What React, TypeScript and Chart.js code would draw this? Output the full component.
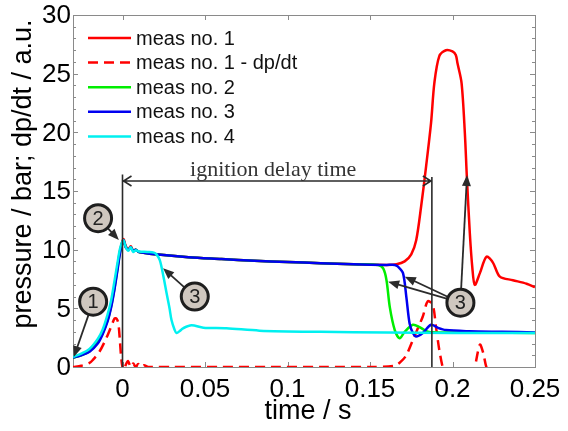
import React, { useEffect, useRef } from "react";
import { Chart, registerables } from "chart.js";

Chart.register(...registerables);

// ---------- data ----------
const meas1Time = [-0.03, -0.025, -0.02, -0.015, -0.012, -0.009, -0.007, -0.005, -0.003, -0.0015, 0.0005, 0.002, 0.0035, 0.005, 0.0065, 0.008, 0.01, 0.02, 0.04, 0.06, 0.08, 0.1, 0.12, 0.14, 0.16, 0.166, 0.171, 0.175, 0.178, 0.181, 0.184, 0.187, 0.189, 0.192, 0.196, 0.2, 0.202, 0.203, 0.2055, 0.2075, 0.2087, 0.2105, 0.212, 0.2135, 0.2166, 0.2206, 0.2245, 0.2287, 0.2366, 0.2449, 0.25];
const meas1Pressure = [0.8, 1.05, 1.4, 2.2, 3.0, 4.2, 5.3, 6.8, 8.6, 9.9, 10.9, 10.3, 10.0, 10.3, 9.9, 10.0, 9.8, 9.6, 9.35, 9.2, 9.05, 8.95, 8.85, 8.75, 8.7, 8.75, 9.0, 9.6, 10.8, 13.7, 17.1, 20.8, 24.2, 26.5, 27.0, 26.9, 26.6, 25.9, 24.2, 19.9, 16.2, 11.4, 8.5, 7.0, 8.0, 9.4, 8.9, 7.7, 7.4, 7.1, 6.8];

const meas1DpdtTime = [-0.03, -0.025, -0.02, -0.018, -0.014, -0.01, -0.007, -0.0047, -0.0035, -0.0025, -0.0016, -0.0008, 0.0, 0.001, 0.002, 0.0034, 0.005, 0.0065, 0.008, 0.0095, 0.011, 0.013, 0.0155, 0.018, 0.03, 0.06, 0.09, 0.12, 0.15, 0.165, 0.169, 0.172, 0.176, 0.179, 0.182, 0.185, 0.188, 0.19, 0.192, 0.194, 0.196, 0.2, 0.205, 0.21, 0.2135, 0.2166, 0.2186, 0.2205, 0.225, 0.25];
const meas1Dpdt = [0.0, 0.1, 0.35, 0.6, 1.3, 2.4, 3.4, 4.15, 4.1, 3.7, 2.3, 0.8, 0.0, -0.3, 0.2, 0.5, 0.0, 0.3, 0.0, 0.25, 0.0, 0.15, 0.0, 0.0, 0.0, 0.0, 0.0, 0.0, 0.0, 0.1, 0.5, 1.0, 2.3, 3.3, 4.3, 5.6, 5.3, 3.4, 1.45, 0.0, -1, -2, -2, -1.5, 0.0, 1.9, 1.2, 0.0, -1.5, -2];

const meas2Time = [-0.03, -0.025, -0.02, -0.015, -0.012, -0.009, -0.007, -0.005, -0.003, -0.0015, 0.0005, 0.002, 0.0035, 0.005, 0.0065, 0.008, 0.01, 0.02, 0.04, 0.06, 0.08, 0.1, 0.12, 0.14, 0.155, 0.158, 0.16, 0.162, 0.165, 0.168, 0.171, 0.176, 0.18, 0.185, 0.19, 0.2, 0.22, 0.25];
const meas2Pressure = [0.8, 1.0, 1.35, 2.1, 2.9, 4.0, 5.1, 6.6, 8.4, 9.8, 10.8, 10.2, 10.0, 10.2, 9.9, 10.0, 9.8, 9.6, 9.35, 9.2, 9.05, 8.95, 8.85, 8.75, 8.7, 8.4, 7.4, 5.1, 3.15, 2.45, 3.0, 3.6, 3.4, 3.0, 2.95, 2.95, 2.95, 2.9];

const meas3Time = [-0.03, -0.025, -0.02, -0.015, -0.012, -0.009, -0.007, -0.005, -0.003, -0.0015, 0.0005, 0.002, 0.0035, 0.005, 0.0065, 0.008, 0.01, 0.02, 0.04, 0.06, 0.08, 0.1, 0.12, 0.14, 0.16, 0.165, 0.167, 0.17, 0.172, 0.174, 0.176, 0.178, 0.182, 0.187, 0.191, 0.196, 0.21, 0.23, 0.25];
const meas3Pressure = [0.8, 1.0, 1.3, 2.0, 2.8, 3.9, 5.0, 6.5, 8.3, 9.7, 10.8, 10.2, 10.0, 10.2, 9.9, 10.0, 9.8, 9.6, 9.35, 9.2, 9.05, 8.95, 8.85, 8.75, 8.7, 8.7, 8.55, 8.0, 6.0, 3.7, 2.9, 2.6, 2.9, 3.6, 3.35, 3.15, 3.05, 3.0, 2.95];

const meas4Time = [-0.03, -0.025, -0.02, -0.015, -0.012, -0.009, -0.007, -0.005, -0.003, -0.0015, 0.0005, 0.002, 0.0035, 0.005, 0.0065, 0.008, 0.01, 0.015, 0.019, 0.0206, 0.0226, 0.0247, 0.0267, 0.0285, 0.0297, 0.0315, 0.0327, 0.035, 0.0367, 0.0418, 0.049, 0.063, 0.083, 0.12, 0.16, 0.2, 0.25];
const meas4Pressure = [0.85, 1.15, 1.55, 2.4, 3.2, 4.5, 5.6, 7.2, 8.9, 10.1, 10.8, 10.2, 9.9, 10.2, 9.8, 9.95, 9.85, 9.8, 9.75, 9.6, 9.1, 7.8, 6.3, 5.0, 4.0, 3.2, 2.9, 3.1, 3.3, 3.55, 3.35, 3.3, 3.1, 3.0, 2.95, 2.9, 2.9];

const seriesLabels = ["meas no. 1", "meas no. 1 - dp/dt", "meas no. 2", "meas no. 3", "meas no. 4"];

const xTickValues = [0, 0.05, 0.1, 0.15, 0.2, 0.25];
const xTickLabels = ["0", "0.05", "0.1", "0.15", "0.2", "0.25"];
const yTickValues = [0, 5, 10, 15, 20, 25, 30];
const yTickLabels = ["0", "5", "10", "15", "20", "25", "30"];
const yMinorStep = 1;

const xAxisTitle = "time / s";
const yAxisTitle = "pressure / bar; dp/dt / a.u.";
const ignitionLabel = "ignition delay time";
const ignitionStart = 0;
const ignitionEnd = 0.1875;
const ignitionArrowLevel = 15.85;
const ignitionStartTop = 16.4;
const ignitionEndTop = 16.2;

// callouts: label, circle centre (data coords), arrow targets (data coords)
const callouts = [
  { label: "1", at: [-0.0178, 5.57], targets: [[-0.0295, 0.85]] },
  { label: "2", at: [-0.0148, 12.68], targets: [[-0.0022, 10.83]] },
  { label: "3", at: [0.0438, 6.0], targets: [[0.0246, 8.41]] },
  { label: "3", at: [0.2048, 5.48], targets: [[0.161, 7.27], [0.1711, 7.7], [0.2088, 16.37]] },
];

// ---------- styles ----------
const COLORS = ["#ff0000", "#ff0000", "#00ee00", "#0000f0", "#00f0f0"];
const DASH = [10, 6];
const SANS = '"Liberation Sans", Arial, sans-serif';
const SERIF = '"Liberation Serif", "Times New Roman", serif';
const INK = "#2b2b2b";

function pts(t: number[], v: number[]) {
  return t.map((x, i) => ({ x, y: v[i] }));
}

function arrowHead(ctx: CanvasRenderingContext2D, fx: number, fy: number, tx: number, ty: number, len: number, half: number) {
  const ang = Math.atan2(ty - fy, tx - fx);
  const c = Math.cos(ang), s = Math.sin(ang);
  const bx = tx - c * len, by = ty - s * len;
  ctx.beginPath();
  ctx.moveTo(tx, ty);
  ctx.lineTo(bx - s * half, by + c * half);
  ctx.lineTo(bx + s * half, by - c * half);
  ctx.closePath();
  ctx.fill();
}

const framePlugin = {
  id: "frame",
  beforeDatasetsDraw(chart: any) {
    const { ctx, chartArea: a, scales } = chart;
    const x = scales.x, y = scales.y;
    ctx.save();
    ctx.strokeStyle = "#8a8a8a";
    ctx.lineWidth = 1;
    ctx.strokeRect(Math.round(a.left) + 0.5, Math.round(a.top) + 0.5, Math.round(a.right - a.left), Math.round(a.bottom - a.top));
    ctx.beginPath();
    for (let v = 0; v <= 30; v += yMinorStep) {
      const py = Math.round(y.getPixelForValue(v)) + 0.5;
      const len = v % 5 === 0 ? 5 : 3;
      ctx.moveTo(a.left, py); ctx.lineTo(a.left + len, py);
      ctx.moveTo(a.right, py); ctx.lineTo(a.right - len, py);
    }
    for (const v of xTickValues) {
      const px = Math.round(x.getPixelForValue(v)) + 0.5;
      ctx.moveTo(px, a.bottom); ctx.lineTo(px, a.bottom - 5);
      ctx.moveTo(px, a.top); ctx.lineTo(px, a.top + 5);
    }
    ctx.stroke();

    // tick labels
    ctx.fillStyle = "#000";
    ctx.font = `26px ${SANS}`;
    ctx.textAlign = "right";
    ctx.textBaseline = "middle";
    yTickValues.forEach((v, i) => ctx.fillText(yTickLabels[i], a.left - 2, y.getPixelForValue(v) + 1));
    ctx.textAlign = "center";
    xTickValues.forEach((v, i) => ctx.fillText(xTickLabels[i], x.getPixelForValue(v), a.bottom + 23));

    // axis titles
    ctx.font = `27px ${SANS}`;
    ctx.fillText(xAxisTitle, (a.left + a.right) / 2 + 4, a.bottom + 45);
    ctx.save();
    ctx.translate(24, 174);
    ctx.rotate(-Math.PI / 2);
    ctx.fillText(yAxisTitle, 0, 0);
    ctx.restore();
    ctx.restore();
  },
  afterDatasetsDraw(chart: any) {
    const { ctx, chartArea: a, scales } = chart;
    const x = scales.x, y = scales.y;
    ctx.save();

    // legend
    ctx.font = `20px ${SANS}`;
    ctx.textAlign = "left";
    ctx.textBaseline = "middle";
    seriesLabels.forEach((lab, i) => {
      const ly = 38 + i * 24.6;
      ctx.strokeStyle = COLORS[i];
      ctx.lineWidth = 2.5;
      ctx.setLineDash(i === 1 ? DASH : []);
      ctx.beginPath();
      ctx.moveTo(88, ly); ctx.lineTo(131, ly);
      ctx.stroke();
      ctx.setLineDash([]);
      ctx.fillStyle = "#111";
      ctx.fillText(lab, 136, ly + 1);
    });

    // ignition delay annotation
    const x0 = x.getPixelForValue(ignitionStart);
    const x1 = x.getPixelForValue(ignitionEnd);
    const ya = y.getPixelForValue(ignitionArrowLevel);
    ctx.strokeStyle = INK;
    ctx.fillStyle = INK;
    ctx.lineWidth = 1.6;
    ctx.beginPath();
    ctx.moveTo(x0, y.getPixelForValue(ignitionStartTop)); ctx.lineTo(x0, a.bottom);
    ctx.moveTo(x1, y.getPixelForValue(ignitionEndTop)); ctx.lineTo(x1, a.bottom);
    ctx.moveTo(x0, ya); ctx.lineTo(x1, ya);
    ctx.moveTo(x0 + 9, ya - 5); ctx.lineTo(x0 + 1, ya); ctx.lineTo(x0 + 9, ya + 5);
    ctx.moveTo(x1 - 9, ya - 5); ctx.lineTo(x1 - 1, ya); ctx.lineTo(x1 - 9, ya + 5);
    ctx.stroke();
    ctx.font = `22px ${SERIF}`;
    ctx.textAlign = "center";
    ctx.textBaseline = "alphabetic";
    ctx.fillStyle = "#333";
    ctx.fillText(ignitionLabel, (x0 + x1) / 2 - 4, ya - 5);

    // callouts
    const R = 13.5;
    callouts.forEach((c) => {
      const cx = x.getPixelForValue(c.at[0]);
      const cy = y.getPixelForValue(c.at[1]);
      c.targets.forEach((t) => {
        const tx = x.getPixelForValue(t[0]);
        const ty = y.getPixelForValue(t[1]);
        const d = Math.hypot(tx - cx, ty - cy);
        const sx = cx + ((tx - cx) / d) * R;
        const sy = cy + ((ty - cy) / d) * R;
        ctx.strokeStyle = INK;
        ctx.fillStyle = INK;
        ctx.lineWidth = 1.8;
        ctx.beginPath();
        ctx.moveTo(sx, sy);
        const ang = Math.atan2(ty - sy, tx - sx);
        ctx.lineTo(tx - Math.cos(ang) * 8, ty - Math.sin(ang) * 8);
        ctx.stroke();
        arrowHead(ctx, sx, sy, tx, ty, 11, 4.5);
      });
      ctx.beginPath();
      ctx.arc(cx, cy, R, 0, Math.PI * 2);
      ctx.fillStyle = "#cfc7bf";
      ctx.fill();
      ctx.lineWidth = 3;
      ctx.strokeStyle = "#1e1e1e";
      ctx.stroke();
      ctx.fillStyle = "#222";
      ctx.font = `20px ${SANS}`;
      ctx.textAlign = "center";
      ctx.textBaseline = "middle";
      ctx.fillText(c.label, cx, cy + 1);
    });
    ctx.restore();
  },
};

export default function App() {
  const ref = useRef<HTMLCanvasElement | null>(null);
  useEffect(() => {
    if (!ref.current) return;
    const mk = (t: number[], v: number[], i: number, order: number) => ({
      label: seriesLabels[i],
      data: pts(t, v),
      borderColor: COLORS[i],
      borderWidth: 2.5,
      borderDash: i === 1 ? DASH : [],
      pointRadius: 0,
      tension: 0.3,
      fill: false,
      order,
    });
    const chart = new Chart(ref.current, {
      type: "line",
      data: {
        datasets: [
          mk(meas1Time, meas1Pressure, 0, 5),
          mk(meas1DpdtTime, meas1Dpdt, 1, 4),
          mk(meas2Time, meas2Pressure, 2, 3),
          mk(meas3Time, meas3Pressure, 3, 2),
          mk(meas4Time, meas4Pressure, 4, 1),
        ],
      },
      options: {
        animation: false,
        responsive: false,
        events: [],
        layout: { padding: { left: 73, top: 15, right: 33, bottom: 64 } },
        plugins: { legend: { display: false }, tooltip: { enabled: false } },
        scales: {
          x: { type: "linear", min: -0.03, max: 0.25, display: false },
          y: { type: "linear", min: 0, max: 30, display: false },
        },
      },
      plugins: [framePlugin],
    } as any);
    return () => chart.destroy();
  }, []);
  return (
    <div style={{ position: "absolute", left: 0, top: 0, width: 568, height: 431, background: "#fff" }}>
      <canvas ref={ref} width={568} height={431} style={{ width: 568, height: 431 }} />
    </div>
  );
}
